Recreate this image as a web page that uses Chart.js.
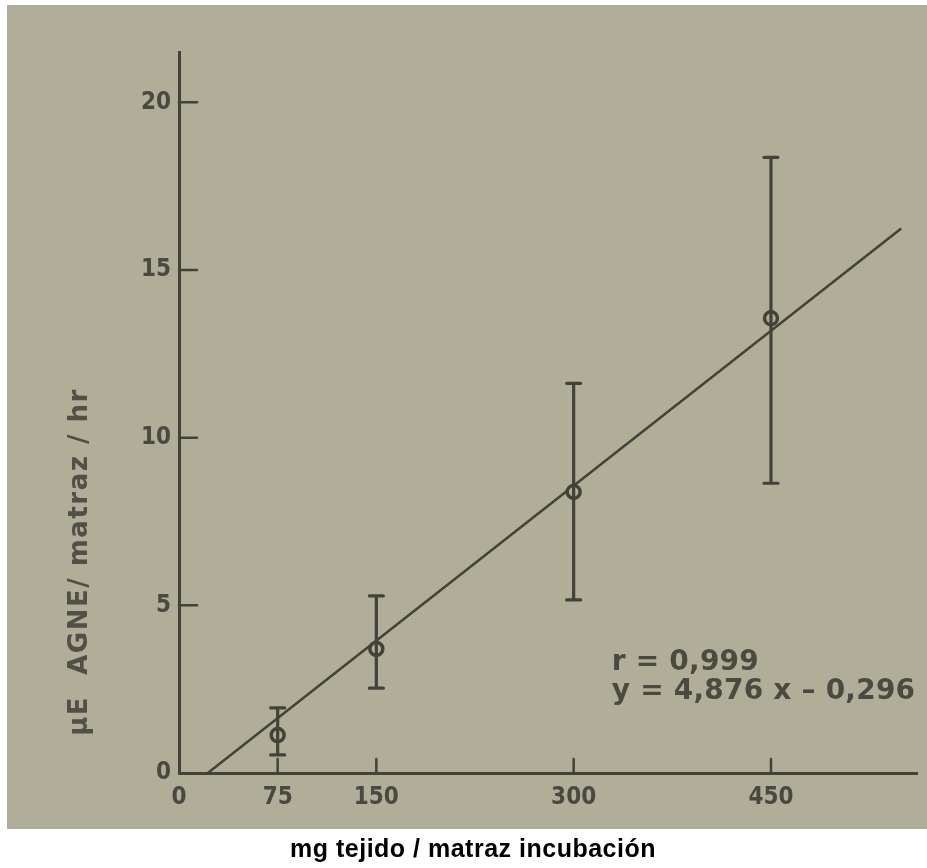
<!DOCTYPE html>
<html>
<head>
<meta charset="utf-8">
<script src="https://cdn.jsdelivr.net/npm/chart.js@4.4.1/dist/chart.umd.min.js"></script>
<style>
  html, body { margin: 0; padding: 0; background: #ffffff; }
  #wrap { width: 927px; height: 868px; }
</style>
</head>
<body>
<div id="wrap"><canvas id="chart" width="927" height="868"></canvas></div>
<script>
const doses = [75, 150, 300, 450];
const means = [1.13, 3.7, 8.38, 13.56];
const lows = [0.54, 2.53, 5.16, 8.64];
const highs = [1.94, 5.28, 11.62, 18.36];
// regression line as drawn (start / end)
const fitX = [21.9, 549];
const fitY = [0, 16.24];
const xTicks = [0, 75, 150, 300, 450];
const yTicks = [0, 5, 10, 15, 20];
const yTitle = 'µE  AGNE/ matraz / hr';
const xTitle = 'mg tejido / matraz incubación';
const noteLines = ['r = 0,999', 'y = 4,876 x – 0,296'];

const ink = '#434239';
const paper = '#b0ae98';
const tickFont = { family: "'DejaVu Sans Condensed', 'Liberation Sans Narrow', 'DejaVu Sans', sans-serif", size: 24, weight: 'bold' };

// scanned paper background
const paperPlugin = {
    id: 'paper',
    beforeDraw(c) {
        const ctx = c.ctx;
        ctx.save();
        ctx.fillStyle = '#ffffff';
        ctx.fillRect(0, 0, c.width, c.height);
        ctx.fillStyle = paper;
        ctx.fillRect(7, 5, c.width - 7, 824);
        ctx.restore();
    }
};

// error bars, inward ticks, titles and the regression note
const extrasPlugin = {
    id: 'extras',
    afterDatasetsDraw(c) {
        const ctx = c.ctx;
        const xs = c.scales.x, ys = c.scales.y;
        ctx.save();
        ctx.strokeStyle = ink;
        ctx.lineCap = 'round';
        ctx.lineWidth = 3.2;
        doses.forEach((d, i) => {
            const px = xs.getPixelForValue(d);
            const top = ys.getPixelForValue(highs[i]);
            const bot = ys.getPixelForValue(lows[i]);
            ctx.beginPath();
            ctx.moveTo(px, top); ctx.lineTo(px, bot);
            ctx.moveTo(px - 7, top); ctx.lineTo(px + 7, top);
            ctx.moveTo(px - 7, bot); ctx.lineTo(px + 7, bot);
            ctx.stroke();
        });
        ctx.lineWidth = 2.5;
        yTicks.slice(1).forEach(v => {
            const py = ys.getPixelForValue(v);
            ctx.beginPath();
            ctx.moveTo(xs.left, py); ctx.lineTo(xs.left + 18, py);
            ctx.stroke();
        });
        xTicks.slice(1).forEach(v => {
            const px = xs.getPixelForValue(v);
            ctx.beginPath();
            ctx.moveTo(px, ys.bottom); ctx.lineTo(px, ys.bottom - 14);
            ctx.stroke();
        });
        // y title
        ctx.fillStyle = '#514f46';
        ctx.font = "bold 26px 'DejaVu Sans', sans-serif";
        ctx.letterSpacing = '1.5px';
        ctx.textAlign = 'center';
        ctx.textBaseline = 'middle';
        ctx.translate(80, 562);
        ctx.rotate(-Math.PI / 2);
        ctx.fillText(yTitle, 0, 0);
        ctx.restore();

        ctx.save();
        ctx.fillStyle = '#4b4a41';
        ctx.font = "bold 28px 'DejaVu Sans', sans-serif";
        ctx.letterSpacing = '0.2px';
        ctx.textAlign = 'left';
        ctx.textBaseline = 'middle';
        const nx = xs.getPixelForValue(329);
        ctx.fillText(noteLines[0], nx, ys.getPixelForValue(3.3));
        ctx.fillText(noteLines[1], nx, ys.getPixelForValue(2.42));
        // x title
        ctx.letterSpacing = '0.5px';
        ctx.fillStyle = '#000000';
        ctx.font = "bold 25px 'Liberation Sans', Arial, sans-serif";
        ctx.textAlign = 'center';
        ctx.fillText(xTitle, 473, 850);
        ctx.restore();
    }
};

const chart = new Chart(document.getElementById('chart'), {
    type: 'scatter',
    data: {
        datasets: [
            {
                label: 'ajuste',
                type: 'line',
                data: fitX.map((x, i) => ({ x: x, y: fitY[i] })),
                borderColor: ink,
                borderWidth: 2.5,
                pointRadius: 0,
                fill: false,
                order: 2
            },
            {
                label: 'medias',
                data: doses.map((d, i) => ({ x: d, y: means[i] })),
                pointRadius: 6.5,
                pointBorderWidth: 3.5,
                pointBorderColor: ink,
                pointBackgroundColor: paper,
                order: 1
            }
        ]
    },
    options: {
        responsive: false,
        animation: false,
        layout: { padding: { top: 52, right: 5, left: 0, bottom: 0 } },
        plugins: { legend: { display: false }, tooltip: { enabled: false } },
        scales: {
            x: {
                type: 'linear',
                min: 0,
                max: 561,
                afterBuildTicks: s => { s.ticks = xTicks.map(v => ({ value: v })); },
                afterFit: s => { s.height = 95; },
                grid: { drawOnChartArea: false, drawTicks: false },
                border: { color: ink, width: 3 },
                ticks: { color: '#4a4941', font: tickFont, padding: 10, maxRotation: 0 }
            },
            y: {
                min: 0,
                max: 21.5,
                afterBuildTicks: s => { s.ticks = yTicks.map(v => ({ value: v })); },
                afterFit: s => { s.width = 179; },
                grid: { drawOnChartArea: false, drawTicks: false },
                border: { color: ink, width: 3 },
                ticks: { color: '#4a4941', font: tickFont, padding: 8 }
            }
        }
    },
    plugins: [paperPlugin, extrasPlugin]
});
</script>
</body>
</html>
